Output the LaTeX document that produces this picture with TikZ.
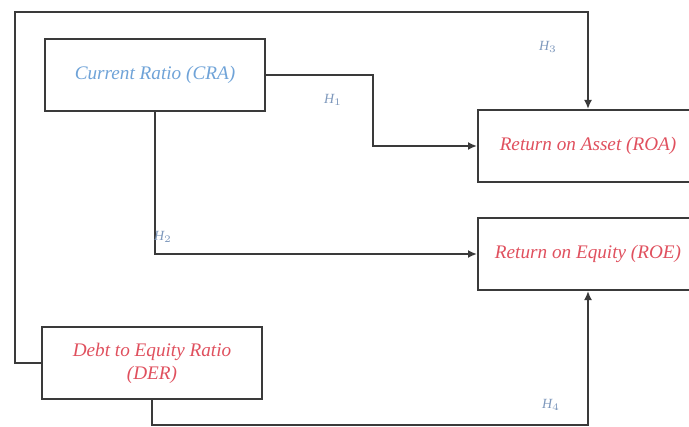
\documentclass[tikz,border=0pt]{standalone}
\usepackage{fontspec}
\setmainfont{Liberation Serif}
\usetikzlibrary{positioning,calc,arrows.meta}
\definecolor{LineDark}{HTML}{3A3A3A}
\definecolor{VarBlue}{HTML}{6FA3D8}
\definecolor{VarRed}{HTML}{E0505E}
\definecolor{HypLabel}{HTML}{7E98BC}

\begin{document}
\begin{tikzpicture}[
    x=0.5pt, y=-0.5pt,
    varbox/.style={rectangle, draw=LineDark, fill=white, line width=1pt, minimum width=110pt, minimum height=36pt, align=center, font=\fontsize{9.6}{11.5}\selectfont\itshape},
    indep/.style={varbox, text=VarBlue},
    dep/.style={varbox, text=VarRed},
    hyp/.style={font=\fontsize{7}{8}\selectfont\itshape, text=HypLabel},
    arrow/.style={-{Latex[length=4.5pt,width=4pt]}, line width=1pt, LineDark}
  ]
    \useasboundingbox (0,0) rectangle (689,427);

    % Independent variables
    \node (cra) [indep] at (155,75) {Current Ratio (CRA)};
    \node (der) [indep, text=VarRed] at (152,363) {Debt to Equity Ratio\\(DER)};

    % Dependent variables
    \node (roa) [dep] at (588,146) {Return on Asset (ROA)};
    \node (roe) [dep] at (588,254) {Return on Equity (ROE)};

    % Turning points
    \coordinate (topleft) at (15,12);
    \coordinate (botright) at (roe.south |- 0,425);

    % Connections
    \draw [arrow] (cra.east) -- ++(107,0) |- (roa.west);
    \draw [arrow] (cra.south) |- (roe.west);
    \draw [arrow] (der.west) -| (topleft) -| (roa.north);
    \draw [arrow] (der.south) |- (botright) -- (roe.south);

    % Hypotheses
    \node [hyp] at (333,100) {H$_1$};
    \node [hyp] at (163,237) {H$_2$};
    \node [hyp] at (548,47) {H$_3$};
    \node [hyp] at (551,405) {H$_4$};
  \end{tikzpicture}
\end{document}
